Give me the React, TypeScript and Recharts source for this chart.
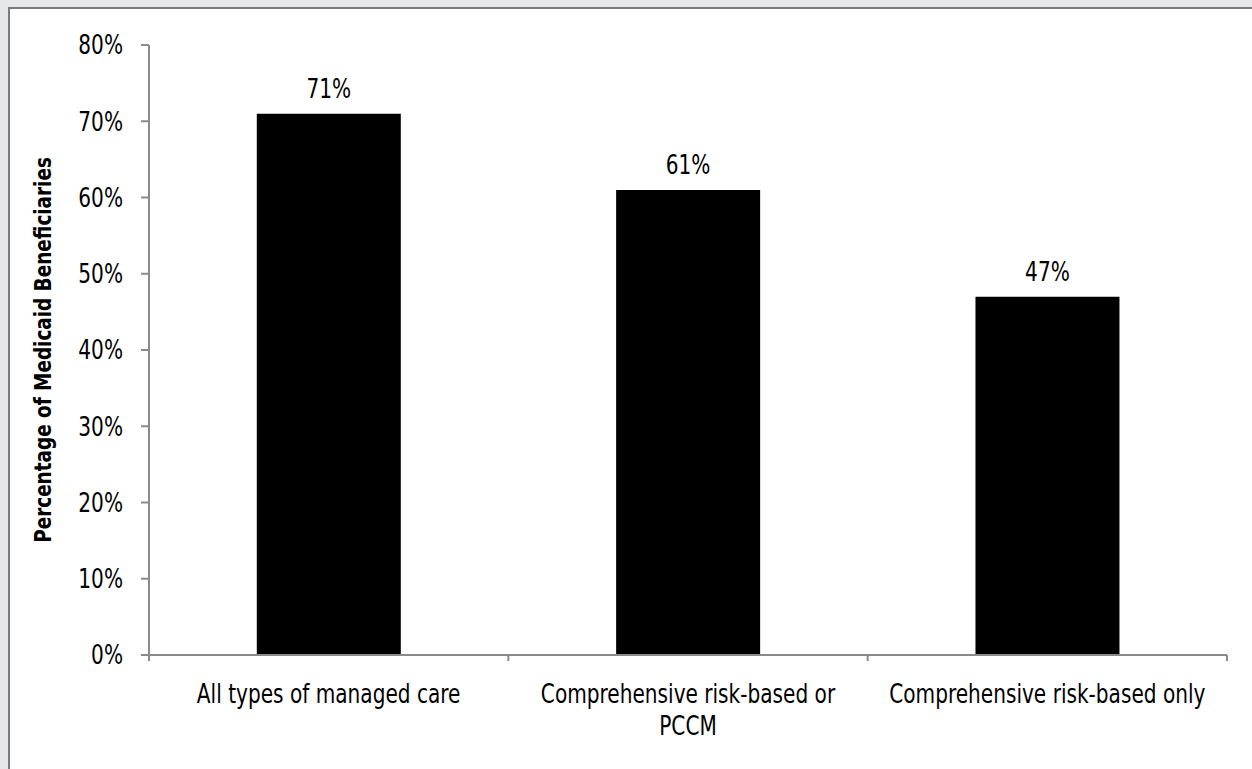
import React from 'react';
import { BarChart, Bar, XAxis, YAxis, LabelList } from 'recharts';

const categories = [
  'All types of managed care',
  'Comprehensive risk-based or\nPCCM',
  'Comprehensive risk-based only',
];
const shares = [71, 61, 47];
const yTicks = [0, 10, 20, 30, 40, 50, 60, 70, 80];
const yTitle = 'Percentage of Medicaid Beneficiaries';

const FONT = '"Liberation Sans Narrow", "DejaVu Sans Condensed", "Arial Narrow", sans-serif';
const AXIS = '#8a8a8a';
const SQUEEZE = 0.86;
const X_TICK = 6;
const X_MARGIN = 2;

const chartData = categories.map((name, i) => ({ name, value: shares[i] }));

// label plus tick marks on the category boundaries (Excel style)
const CategoryTick = (props: any) => {
  const { x, y, payload, index, visibleTicksCount, width } = props;
  const half =
    payload && payload.offset ? payload.offset : width / (visibleTicksCount || 3) / 2;
  const axisY = y - X_TICK - X_MARGIN;
  const lines = String(payload.value).split('\n');
  const last = index === (visibleTicksCount || 3) - 1;
  return (
    <g>
      <line x1={x - half} x2={x - half} y1={axisY} y2={axisY + X_TICK} stroke={AXIS} strokeWidth={2} />
      {last && (
        <line x1={x + half} x2={x + half} y1={axisY} y2={axisY + X_TICK} stroke={AXIS} strokeWidth={2} />
      )}
      <g transform={`translate(${x},${y + 40}) scale(${SQUEEZE},1)`}>
        <text x={0} y={0} textAnchor="middle" fill="#000" fontSize={26} fontFamily={FONT}>
          {lines.map((line, i) => (
            <tspan key={i} x={0} dy={i === 0 ? 0 : 32}>
              {line}
            </tspan>
          ))}
        </text>
      </g>
    </g>
  );
};

const PercentTick = (props: any) => {
  const { x, y, payload } = props;
  return (
    <g transform={`translate(${x},${y}) scale(${SQUEEZE},1)`}>
      <text x={0} y={0} dy="0.36em" textAnchor="end" fill="#000" fontSize={26} fontFamily={FONT}>
        {`${payload.value}%`}
      </text>
    </g>
  );
};

const ValueLabel = (props: any) => {
  const { x, y, width, value } = props;
  return (
    <g transform={`translate(${x + width / 2},${y - 16}) scale(${SQUEEZE},1)`}>
      <text x={0} y={0} textAnchor="middle" fill="#000" fontSize={26} fontFamily={FONT}>
        {`${value}%`}
      </text>
    </g>
  );
};

export default function App() {
  return (
    <div
      style={{
        position: 'absolute',
        left: 0,
        top: 0,
        width: 1252,
        height: 769,
        background: '#e6e7e9',
        overflow: 'hidden',
      }}
    >
      <div
        style={{
          position: 'absolute',
          left: 8,
          top: 7,
          width: 1260,
          height: 780,
          background: '#fff',
          borderLeft: '2px solid #7a7a7a',
          borderTop: '2px solid #7a7a7a',
        }}
      />
      <div style={{ position: 'absolute', left: 0, top: 0 }}>
        <BarChart
          width={1252}
          height={769}
          data={chartData}
          margin={{ top: 45, right: 25, bottom: 54, left: 89 }}
          barCategoryGap="30%"
        >
          <XAxis
            dataKey="name"
            height={60}
            interval={0}
            stroke={AXIS}
            strokeWidth={2}
            tickLine={false}
            tickSize={X_TICK}
            tickMargin={X_MARGIN}
            tick={<CategoryTick />}
          />
          <YAxis
            width={60}
            domain={[0, 80]}
            ticks={yTicks}
            interval={0}
            stroke={AXIS}
            strokeWidth={2}
            tickSize={8}
            tickMargin={18}
            tick={<PercentTick />}
          />
          <Bar dataKey="value" fill="#000" isAnimationActive={false}>
            <LabelList dataKey="value" content={<ValueLabel />} />
          </Bar>
        </BarChart>
      </div>
      <svg
        width={120}
        height={769}
        style={{ position: 'absolute', left: 0, top: 0, pointerEvents: 'none' }}
      >
        <text
          x={0}
          y={0}
          transform="translate(51, 350) rotate(-90) scale(0.89,1)"
          textAnchor="middle"
          fontSize={23}
          fontWeight="bold"
          fontFamily={FONT}
          fill="#000"
        >
          {yTitle}
        </text>
      </svg>
    </div>
  );
}
